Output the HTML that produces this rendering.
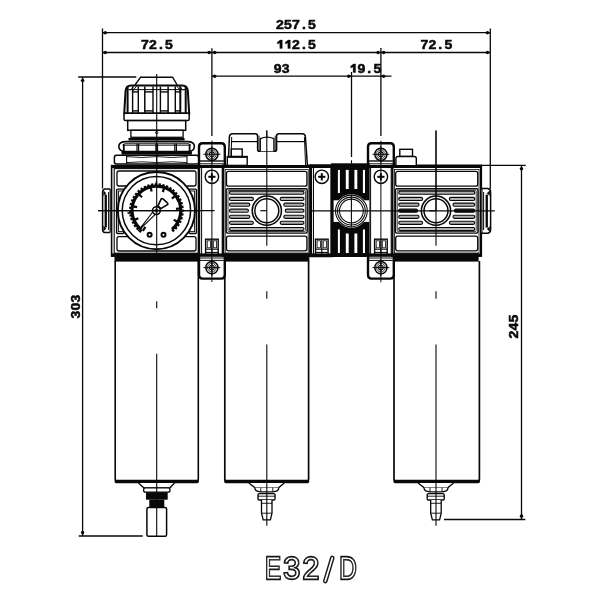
<!DOCTYPE html>
<html><head><meta charset="utf-8"><style>
html,body{margin:0;padding:0;background:#fff;width:600px;height:600px;overflow:hidden}
svg{display:block}
</style></head><body>
<svg width="600" height="600" viewBox="0 0 600 600" shape-rendering="geometricPrecision">
<rect width="600" height="600" fill="#fff"/>
<line x1="102.50" y1="32.70" x2="490.30" y2="32.70" stroke="#080808" stroke-width="1.3" />
<path d="M102.50,32.70 L105.03,31.00 Q107.10,31.00 107.10,32.70 Q107.10,34.40 105.03,34.40 Z" fill="#080808"/>
<path d="M490.30,32.70 L487.77,34.40 Q485.70,34.40 485.70,32.70 Q485.70,31.00 487.77,31.00 Z" fill="#080808"/>
<line x1="102.50" y1="52.50" x2="490.30" y2="52.50" stroke="#080808" stroke-width="1.3" />
<path d="M102.50,52.50 L105.03,50.80 Q107.10,50.80 107.10,52.50 Q107.10,54.20 105.03,54.20 Z" fill="#080808"/>
<path d="M211.90,52.50 L209.37,54.20 Q207.30,54.20 207.30,52.50 Q207.30,50.80 209.37,50.80 Z" fill="#080808"/>
<path d="M211.90,52.50 L214.43,50.80 Q216.50,50.80 216.50,52.50 Q216.50,54.20 214.43,54.20 Z" fill="#080808"/>
<path d="M380.90,52.50 L378.37,54.20 Q376.30,54.20 376.30,52.50 Q376.30,50.80 378.37,50.80 Z" fill="#080808"/>
<path d="M380.90,52.50 L383.43,50.80 Q385.50,50.80 385.50,52.50 Q385.50,54.20 383.43,54.20 Z" fill="#080808"/>
<path d="M490.30,52.50 L487.77,54.20 Q485.70,54.20 485.70,52.50 Q485.70,50.80 487.77,50.80 Z" fill="#080808"/>
<line x1="211.90" y1="76.20" x2="391.50" y2="76.20" stroke="#080808" stroke-width="1.3" />
<path d="M211.90,76.20 L214.43,74.50 Q216.50,74.50 216.50,76.20 Q216.50,77.90 214.43,77.90 Z" fill="#080808"/>
<path d="M351.50,76.20 L348.97,77.90 Q346.90,77.90 346.90,76.20 Q346.90,74.50 348.97,74.50 Z" fill="#080808"/>
<path d="M380.90,76.20 L383.43,74.50 Q385.50,74.50 385.50,76.20 Q385.50,77.90 383.43,77.90 Z" fill="#080808"/>
<line x1="102.50" y1="28.50" x2="102.50" y2="188.50" stroke="#080808" stroke-width="1.3" />
<line x1="490.30" y1="28.50" x2="490.30" y2="189.00" stroke="#080808" stroke-width="1.3" />
<line x1="211.90" y1="48.20" x2="211.90" y2="136.00" stroke="#080808" stroke-width="1.3" />
<line x1="380.90" y1="48.00" x2="380.90" y2="136.00" stroke="#080808" stroke-width="1.3" />
<line x1="351.50" y1="72.00" x2="351.50" y2="157.00" stroke="#080808" stroke-width="1.3" />
<line x1="82.60" y1="77.00" x2="82.60" y2="536.00" stroke="#080808" stroke-width="1.3" />
<path d="M82.60,77.60 L84.30,80.13 Q84.30,82.20 82.60,82.20 Q80.90,82.20 80.90,80.13 Z" fill="#080808"/>
<path d="M82.60,535.40 L80.90,532.87 Q80.90,530.80 82.60,530.80 Q84.30,530.80 84.30,532.87 Z" fill="#080808"/>
<line x1="78.20" y1="77.00" x2="136.30" y2="77.00" stroke="#080808" stroke-width="1.3" />
<line x1="78.70" y1="536.00" x2="142.70" y2="536.00" stroke="#080808" stroke-width="1.3" />
<line x1="521.50" y1="165.30" x2="521.50" y2="519.50" stroke="#080808" stroke-width="1.3" />
<path d="M521.50,165.90 L523.20,168.43 Q523.20,170.50 521.50,170.50 Q519.80,170.50 519.80,168.43 Z" fill="#080808"/>
<path d="M521.50,518.90 L519.80,516.37 Q519.80,514.30 521.50,514.30 Q523.20,514.30 523.20,516.37 Z" fill="#080808"/>
<line x1="481.00" y1="165.30" x2="525.70" y2="165.30" stroke="#080808" stroke-width="1.3" />
<line x1="444.00" y1="519.50" x2="525.30" y2="519.50" stroke="#080808" stroke-width="1.3" />
<path d="M135,85 L140.6,77.2 L172.6,77.2 L177.2,85" fill="none" stroke="#080808" stroke-width="1.4" />
<path d="M124.2,113.6 L125.6,90.5 Q126.2,85.6 131,85.4 L182.4,85.4 Q187.2,85.6 187.8,90.5 L189.2,113.6 Z" fill="#fff" stroke="#080808" stroke-width="2.0" />
<line x1="128.50" y1="89.60" x2="185.00" y2="89.60" stroke="#080808" stroke-width="1.0" />
<line x1="127.60" y1="86.50" x2="127.60" y2="113.40" stroke="#080808" stroke-width="2.0" />
<line x1="132.60" y1="86.50" x2="132.60" y2="113.40" stroke="#080808" stroke-width="1.4" />
<line x1="138.30" y1="86.50" x2="138.30" y2="113.40" stroke="#080808" stroke-width="1.4" />
<line x1="144.80" y1="86.50" x2="144.80" y2="113.40" stroke="#080808" stroke-width="1.5" />
<line x1="153.00" y1="86.50" x2="153.00" y2="113.40" stroke="#080808" stroke-width="1.4" />
<line x1="160.40" y1="86.50" x2="160.40" y2="113.40" stroke="#080808" stroke-width="1.4" />
<line x1="168.10" y1="86.50" x2="168.10" y2="113.40" stroke="#080808" stroke-width="1.5" />
<line x1="175.30" y1="86.50" x2="175.30" y2="113.40" stroke="#080808" stroke-width="1.4" />
<line x1="180.30" y1="86.50" x2="180.30" y2="113.40" stroke="#080808" stroke-width="2.0" />
<line x1="185.70" y1="86.50" x2="185.70" y2="113.40" stroke="#080808" stroke-width="2.0" />
<line x1="132.60" y1="91.90" x2="138.30" y2="91.90" stroke="#080808" stroke-width="1.4" />
<line x1="132.60" y1="110.90" x2="138.30" y2="110.90" stroke="#080808" stroke-width="1.4" />
<line x1="144.80" y1="91.90" x2="153.00" y2="91.90" stroke="#080808" stroke-width="1.4" />
<line x1="144.80" y1="110.90" x2="153.00" y2="110.90" stroke="#080808" stroke-width="1.4" />
<line x1="160.40" y1="91.90" x2="168.10" y2="91.90" stroke="#080808" stroke-width="1.4" />
<line x1="160.40" y1="110.90" x2="168.10" y2="110.90" stroke="#080808" stroke-width="1.4" />
<line x1="175.30" y1="91.90" x2="180.30" y2="91.90" stroke="#080808" stroke-width="1.4" />
<line x1="175.30" y1="110.90" x2="180.30" y2="110.90" stroke="#080808" stroke-width="1.4" />
<line x1="130.20" y1="90.50" x2="134.60" y2="85.60" stroke="#080808" stroke-width="0.9" />
<line x1="132.40" y1="91.50" x2="137.00" y2="85.60" stroke="#080808" stroke-width="0.9" />
<line x1="183.20" y1="90.50" x2="178.80" y2="85.60" stroke="#080808" stroke-width="0.9" />
<line x1="181.00" y1="91.50" x2="176.40" y2="85.60" stroke="#080808" stroke-width="0.9" />
<rect x="124.00" y="113.30" width="65.20" height="7.30" rx="1.5" fill="#fff" stroke="#080808" stroke-width="1.5" />
<rect x="127.70" y="120.60" width="58.00" height="9.70" rx="0" fill="#fff" stroke="#080808" stroke-width="1.5" />
<rect x="130.90" y="130.30" width="52.20" height="7.00" rx="0" fill="#fff" stroke="#080808" stroke-width="1.3" />
<circle cx="156.70" cy="132.60" r="1.20" fill="none" stroke="#080808" stroke-width="0.9"/>
<path d="M128.5,139.3 L184.6,139.3" fill="none" stroke="#080808" stroke-width="2.6" />
<path d="M126,141.6 L187.4,141.6 C192.2,141.6 194.4,143.6 194.4,146.6 C194.4,149.6 192.2,151.6 187.4,151.6 L126,151.6 C121.2,151.6 118.8,149.6 118.8,146.6 C118.8,143.6 121.2,141.6 126,141.6 Z" fill="#fff" stroke="#080808" stroke-width="1.6" />
<line x1="124.50" y1="143.80" x2="188.90" y2="143.80" stroke="#080808" stroke-width="1.0" />
<line x1="122.60" y1="145.30" x2="190.80" y2="145.30" stroke="#080808" stroke-width="0.8" />
<line x1="123.80" y1="143.80" x2="123.80" y2="151.40" stroke="#080808" stroke-width="1.8" />
<line x1="137.00" y1="143.80" x2="137.00" y2="151.40" stroke="#080808" stroke-width="1.2" />
<line x1="138.60" y1="143.80" x2="138.60" y2="151.40" stroke="#080808" stroke-width="1.2" />
<line x1="155.90" y1="143.80" x2="155.90" y2="151.40" stroke="#080808" stroke-width="1.2" />
<line x1="157.50" y1="143.80" x2="157.50" y2="151.40" stroke="#080808" stroke-width="1.2" />
<line x1="174.80" y1="143.80" x2="174.80" y2="151.40" stroke="#080808" stroke-width="1.2" />
<line x1="176.40" y1="143.80" x2="176.40" y2="151.40" stroke="#080808" stroke-width="1.2" />
<line x1="189.60" y1="143.80" x2="189.60" y2="151.40" stroke="#080808" stroke-width="1.8" />
<rect x="121.50" y="151.30" width="70.40" height="3.30" rx="0" fill="#080808"/>
<path d="M116.5,155.2 L196.6,155.2 Q198.8,155.3 198.8,157.5 L198.8,162 Q198.8,164 196.6,164 L116.5,164 Q114.4,164 114.4,162 L114.4,157.5 Q114.4,155.3 116.5,155.2 Z" fill="#fff" stroke="#080808" stroke-width="1.5" />
<line x1="126.60" y1="155.20" x2="126.60" y2="164.00" stroke="#080808" stroke-width="1.1" />
<line x1="156.70" y1="155.20" x2="156.70" y2="164.00" stroke="#080808" stroke-width="1.1" />
<line x1="187.00" y1="155.20" x2="187.00" y2="164.00" stroke="#080808" stroke-width="1.1" />
<path d="M126.6,156.6 Q141.6,158.4 156.7,156.6 Q171.8,158.4 187,156.6" fill="none" stroke="#080808" stroke-width="0.9" />
<path d="M126.6,162.6 Q141.6,161 156.7,162.6 Q171.8,161 187,162.6" fill="none" stroke="#080808" stroke-width="0.9" />
<rect x="111.60" y="165.60" width="89.20" height="90.40" rx="0" fill="#fff" stroke="#080808" stroke-width="1.6" />
<rect x="114.20" y="168.60" width="84.20" height="84.60" rx="0" fill="none" stroke="#080808" stroke-width="1.1" />
<rect x="117.00" y="171.00" width="79.00" height="15.00" rx="2" fill="none" stroke="#080808" stroke-width="1.3" />
<rect x="117.00" y="236.70" width="79.00" height="14.30" rx="2" fill="none" stroke="#080808" stroke-width="1.3" />
<rect x="116.60" y="189.10" width="7.40" height="44.40" rx="1" fill="none" stroke="#080808" stroke-width="1.4" />
<rect x="189.00" y="189.10" width="7.40" height="44.40" rx="1" fill="none" stroke="#080808" stroke-width="1.4" />
<rect x="118.40" y="191.00" width="5.60" height="40.60" rx="0" fill="none" stroke="#080808" stroke-width="0.9" />
<rect x="189.00" y="191.00" width="5.60" height="40.60" rx="0" fill="none" stroke="#080808" stroke-width="0.9" />
<path d="M110,189 L104.8,189 Q102.6,189.5 102.6,192 L102.6,229.5 Q102.6,232.2 104.8,232.6 L110,232.6" fill="#fff" stroke="#080808" stroke-width="1.5" />
<path d="M103.4,190.2 L106.2,193.2 L103.4,196 Z" fill="#080808"/>
<path d="M103.4,225.6 L106.2,228.4 L103.4,231.4 Z" fill="#080808"/>
<rect x="104.60" y="194.60" width="2.30" height="32.80" rx="0" fill="#080808"/>
<line x1="108.60" y1="192.00" x2="108.60" y2="230.00" stroke="#080808" stroke-width="1.0" />
<line x1="110.20" y1="189.00" x2="110.20" y2="232.60" stroke="#080808" stroke-width="1.2" />
<circle cx="156.40" cy="210.60" r="38.60" fill="#fff" stroke="#080808" stroke-width="1.9"/>
<circle cx="156.40" cy="210.60" r="34.20" fill="none" stroke="#080808" stroke-width="1.5"/>
<path d="M141.38,229.83 A24.4,24.4 0 1 1 172.08,229.29" fill="none" stroke="#080808" stroke-width="3.2" />
<line x1="141.38" y1="229.83" x2="139.53" y2="232.19" stroke="#080808" stroke-width="2.3" />
<line x1="138.76" y1="227.46" x2="136.59" y2="229.53" stroke="#080808" stroke-width="2.3" />
<line x1="136.51" y1="224.74" x2="134.07" y2="226.48" stroke="#080808" stroke-width="2.3" />
<line x1="134.68" y1="221.72" x2="132.01" y2="223.09" stroke="#080808" stroke-width="2.3" />
<line x1="133.30" y1="218.47" x2="130.47" y2="219.44" stroke="#080808" stroke-width="2.3" />
<line x1="132.41" y1="215.06" x2="129.46" y2="215.61" stroke="#080808" stroke-width="2.3" />
<line x1="132.02" y1="211.55" x2="129.02" y2="211.67" stroke="#080808" stroke-width="2.3" />
<line x1="132.14" y1="208.02" x2="129.15" y2="207.71" stroke="#080808" stroke-width="2.3" />
<line x1="132.76" y1="204.55" x2="129.86" y2="203.81" stroke="#080808" stroke-width="2.3" />
<line x1="133.88" y1="201.20" x2="131.11" y2="200.05" stroke="#080808" stroke-width="2.3" />
<line x1="135.47" y1="198.05" x2="132.90" y2="196.51" stroke="#080808" stroke-width="2.3" />
<line x1="137.50" y1="195.17" x2="135.18" y2="193.27" stroke="#080808" stroke-width="2.3" />
<line x1="139.92" y1="192.60" x2="137.90" y2="190.39" stroke="#080808" stroke-width="2.3" />
<line x1="142.69" y1="190.41" x2="141.01" y2="187.93" stroke="#080808" stroke-width="2.3" />
<line x1="145.75" y1="188.65" x2="144.44" y2="185.95" stroke="#080808" stroke-width="2.3" />
<line x1="149.03" y1="187.34" x2="148.12" y2="184.48" stroke="#080808" stroke-width="2.3" />
<line x1="152.46" y1="186.52" x2="151.97" y2="183.56" stroke="#080808" stroke-width="2.3" />
<line x1="155.97" y1="186.20" x2="155.92" y2="183.20" stroke="#080808" stroke-width="2.3" />
<line x1="159.50" y1="186.40" x2="159.88" y2="183.42" stroke="#080808" stroke-width="2.3" />
<line x1="162.96" y1="187.10" x2="163.76" y2="184.21" stroke="#080808" stroke-width="2.3" />
<line x1="166.28" y1="188.29" x2="167.49" y2="185.55" stroke="#080808" stroke-width="2.3" />
<line x1="169.39" y1="189.95" x2="170.99" y2="187.41" stroke="#080808" stroke-width="2.3" />
<line x1="172.24" y1="192.04" x2="174.18" y2="189.76" stroke="#080808" stroke-width="2.3" />
<line x1="174.75" y1="194.52" x2="177.01" y2="192.54" stroke="#080808" stroke-width="2.3" />
<line x1="176.88" y1="197.33" x2="179.39" y2="195.70" stroke="#080808" stroke-width="2.3" />
<line x1="178.58" y1="200.42" x2="181.30" y2="199.17" stroke="#080808" stroke-width="2.3" />
<line x1="179.81" y1="203.73" x2="182.69" y2="202.89" stroke="#080808" stroke-width="2.3" />
<line x1="180.56" y1="207.18" x2="183.53" y2="206.76" stroke="#080808" stroke-width="2.3" />
<line x1="180.80" y1="210.70" x2="183.80" y2="210.71" stroke="#080808" stroke-width="2.3" />
<line x1="180.53" y1="214.22" x2="183.50" y2="214.66" stroke="#080808" stroke-width="2.3" />
<line x1="179.76" y1="217.66" x2="182.63" y2="218.53" stroke="#080808" stroke-width="2.3" />
<line x1="178.49" y1="220.96" x2="181.21" y2="222.23" stroke="#080808" stroke-width="2.3" />
<line x1="176.77" y1="224.04" x2="179.27" y2="225.69" stroke="#080808" stroke-width="2.3" />
<line x1="174.62" y1="226.83" x2="176.86" y2="228.83" stroke="#080808" stroke-width="2.3" />
<line x1="172.08" y1="229.29" x2="174.01" y2="231.59" stroke="#080808" stroke-width="2.3" />
<line x1="142.76" y1="230.83" x2="145.44" y2="226.85" stroke="#080808" stroke-width="2.2" />
<line x1="133.94" y1="220.13" x2="138.36" y2="218.26" stroke="#080808" stroke-width="2.2" />
<line x1="132.37" y1="206.36" x2="137.10" y2="207.20" stroke="#080808" stroke-width="2.2" />
<line x1="138.55" y1="193.96" x2="142.07" y2="197.23" stroke="#080808" stroke-width="2.2" />
<line x1="150.50" y1="186.92" x2="151.66" y2="191.58" stroke="#080808" stroke-width="2.2" />
<line x1="164.34" y1="187.53" x2="162.78" y2="192.07" stroke="#080808" stroke-width="2.2" />
<line x1="175.63" y1="195.58" x2="171.85" y2="198.53" stroke="#080808" stroke-width="2.2" />
<line x1="180.71" y1="208.47" x2="175.93" y2="208.89" stroke="#080808" stroke-width="2.2" />
<line x1="177.94" y1="222.06" x2="173.71" y2="219.80" stroke="#080808" stroke-width="2.2" />
<line x1="156.40" y1="186.20" x2="156.40" y2="181.60" stroke="#080808" stroke-width="1.6" />
<line x1="132.09" y1="212.73" x2="127.51" y2="213.13" stroke="#080808" stroke-width="1.6" />
<path d="M157.89,211.94 L138.00,231.04 L154.91,209.26 Z" fill="#fff" stroke="#080808" stroke-width="1.1" />
<path d="M160.90,208.59 L167.76,204.41 Q168.21,203.47 167.10,202.60 L163.23,199.13 Q162.26,198.11 161.37,198.66 L157.92,205.92 Z" fill="#fff" stroke="#080808" stroke-width="1.6" />
<circle cx="156.40" cy="210.60" r="3.90" fill="#fff" stroke="#080808" stroke-width="1.5"/>
<circle cx="156.40" cy="210.60" r="1.60" fill="none" stroke="#080808" stroke-width="1.0"/>
<circle cx="149.60" cy="234.80" r="2.00" fill="none" stroke="#080808" stroke-width="2.0"/>
<circle cx="163.50" cy="234.80" r="2.00" fill="none" stroke="#080808" stroke-width="2.0"/>
<path d="M115.2,261 L115.2,479 Q115.2,481.6 117.8,481.6 L195.8,481.6 Q198.3,481.6 198.3,479 L198.3,261" fill="none" stroke="#080808" stroke-width="1.6" />
<rect x="114.60" y="479.80" width="84.30" height="3.40" rx="1.6" fill="#080808"/>
<path d="M138.5,483 L143.7,487.8 L170,487.8 L174.5,483" fill="#fff" stroke="#080808" stroke-width="1.3" />
<rect x="143.60" y="487.80" width="26.40" height="4.40" rx="2" fill="#fff" stroke="#080808" stroke-width="1.3" />
<rect x="146.00" y="492.20" width="21.70" height="7.50" rx="0" fill="#080808"/>
<rect x="149.30" y="499.70" width="15.00" height="7.70" rx="0" fill="#080808"/>
<rect x="146.90" y="507.40" width="19.70" height="28.90" rx="1.5" fill="#fff" stroke="#080808" stroke-width="1.5" />
<line x1="156.70" y1="74.00" x2="156.70" y2="253.50" stroke="#080808" stroke-width="1.1" />
<line x1="156.70" y1="301.30" x2="156.70" y2="308.30" stroke="#080808" stroke-width="1.1" />
<line x1="156.70" y1="353.80" x2="156.70" y2="536.30" stroke="#080808" stroke-width="1.1" />
<line x1="98.00" y1="210.60" x2="214.60" y2="210.60" stroke="#080808" stroke-width="1.2" />
<path d="M202.5,143.3 L221.3,143.3 Q224.8,143.3 224.8,146.8 L224.8,275.1 Q224.8,278.6 221.3,278.6 L202.5,278.6 Q199.0,278.6 199.0,275.1 L199.0,146.8 Q199.0,143.3 202.5,143.3 Z" fill="#fff" stroke="#080808" stroke-width="2.4" />
<line x1="201.60" y1="165.50" x2="201.60" y2="256.00" stroke="#080808" stroke-width="1.0" />
<line x1="222.20" y1="165.50" x2="222.20" y2="256.00" stroke="#080808" stroke-width="1.0" />
<circle cx="211.90" cy="154.30" r="6.10" fill="#fff" stroke="#080808" stroke-width="1.5"/>
<circle cx="211.90" cy="154.30" r="4.30" fill="none" stroke="#080808" stroke-width="0.8"/>
<circle cx="211.90" cy="154.30" r="2.40" fill="none" stroke="#080808" stroke-width="1.1"/>
<line x1="203.50" y1="154.30" x2="220.30" y2="154.30" stroke="#080808" stroke-width="1.0" />
<line x1="211.90" y1="145.90" x2="211.90" y2="162.70" stroke="#080808" stroke-width="1.0" />
<line x1="200.00" y1="161.00" x2="223.80" y2="161.00" stroke="#080808" stroke-width="1.4" />
<line x1="200.00" y1="163.80" x2="223.80" y2="163.80" stroke="#080808" stroke-width="1.0" />
<line x1="200.00" y1="258.00" x2="223.80" y2="258.00" stroke="#080808" stroke-width="1.0" />
<line x1="200.00" y1="260.40" x2="223.80" y2="260.40" stroke="#080808" stroke-width="1.0" />
<circle cx="211.90" cy="267.60" r="6.10" fill="#fff" stroke="#080808" stroke-width="1.5"/>
<circle cx="211.90" cy="267.60" r="4.30" fill="none" stroke="#080808" stroke-width="0.8"/>
<circle cx="211.90" cy="267.60" r="2.40" fill="none" stroke="#080808" stroke-width="1.1"/>
<line x1="203.50" y1="267.60" x2="220.30" y2="267.60" stroke="#080808" stroke-width="1.0" />
<line x1="211.90" y1="259.20" x2="211.90" y2="276.00" stroke="#080808" stroke-width="1.0" />
<circle cx="211.90" cy="176.80" r="6.70" fill="#fff" stroke="#080808" stroke-width="1.4"/>
<line x1="208.30" y1="176.80" x2="215.50" y2="176.80" stroke="#080808" stroke-width="2.0" />
<line x1="211.90" y1="173.20" x2="211.90" y2="180.40" stroke="#080808" stroke-width="2.0" />
<rect x="205.60" y="239.20" width="12.60" height="15.80" rx="0" fill="#fff" stroke="#080808" stroke-width="1.4" />
<line x1="211.90" y1="239.20" x2="211.90" y2="255.00" stroke="#080808" stroke-width="1.1" />
<rect x="207.20" y="240.80" width="3.30" height="7.00" rx="0" fill="none" stroke="#080808" stroke-width="0.8" />
<rect x="213.30" y="240.80" width="3.30" height="7.00" rx="0" fill="none" stroke="#080808" stroke-width="0.8" />
<line x1="205.60" y1="249.20" x2="218.20" y2="249.20" stroke="#080808" stroke-width="1.1" />
<line x1="205.60" y1="252.40" x2="218.20" y2="252.40" stroke="#080808" stroke-width="1.1" />
<path d="M371.5,143.3 L390.29999999999995,143.3 Q393.79999999999995,143.3 393.79999999999995,146.8 L393.79999999999995,275.1 Q393.79999999999995,278.6 390.29999999999995,278.6 L371.5,278.6 Q368.0,278.6 368.0,275.1 L368.0,146.8 Q368.0,143.3 371.5,143.3 Z" fill="#fff" stroke="#080808" stroke-width="2.4" />
<line x1="370.60" y1="165.50" x2="370.60" y2="256.00" stroke="#080808" stroke-width="1.0" />
<line x1="391.20" y1="165.50" x2="391.20" y2="256.00" stroke="#080808" stroke-width="1.0" />
<circle cx="380.90" cy="154.30" r="6.10" fill="#fff" stroke="#080808" stroke-width="1.5"/>
<circle cx="380.90" cy="154.30" r="4.30" fill="none" stroke="#080808" stroke-width="0.8"/>
<circle cx="380.90" cy="154.30" r="2.40" fill="none" stroke="#080808" stroke-width="1.1"/>
<line x1="372.50" y1="154.30" x2="389.30" y2="154.30" stroke="#080808" stroke-width="1.0" />
<line x1="380.90" y1="145.90" x2="380.90" y2="162.70" stroke="#080808" stroke-width="1.0" />
<line x1="369.00" y1="161.00" x2="392.80" y2="161.00" stroke="#080808" stroke-width="1.4" />
<line x1="369.00" y1="163.80" x2="392.80" y2="163.80" stroke="#080808" stroke-width="1.0" />
<line x1="369.00" y1="258.00" x2="392.80" y2="258.00" stroke="#080808" stroke-width="1.0" />
<line x1="369.00" y1="260.40" x2="392.80" y2="260.40" stroke="#080808" stroke-width="1.0" />
<circle cx="380.90" cy="267.60" r="6.10" fill="#fff" stroke="#080808" stroke-width="1.5"/>
<circle cx="380.90" cy="267.60" r="4.30" fill="none" stroke="#080808" stroke-width="0.8"/>
<circle cx="380.90" cy="267.60" r="2.40" fill="none" stroke="#080808" stroke-width="1.1"/>
<line x1="372.50" y1="267.60" x2="389.30" y2="267.60" stroke="#080808" stroke-width="1.0" />
<line x1="380.90" y1="259.20" x2="380.90" y2="276.00" stroke="#080808" stroke-width="1.0" />
<circle cx="380.90" cy="176.80" r="6.70" fill="#fff" stroke="#080808" stroke-width="1.4"/>
<line x1="377.30" y1="176.80" x2="384.50" y2="176.80" stroke="#080808" stroke-width="2.0" />
<line x1="380.90" y1="173.20" x2="380.90" y2="180.40" stroke="#080808" stroke-width="2.0" />
<rect x="374.60" y="239.20" width="12.60" height="15.80" rx="0" fill="#fff" stroke="#080808" stroke-width="1.4" />
<line x1="380.90" y1="239.20" x2="380.90" y2="255.00" stroke="#080808" stroke-width="1.1" />
<rect x="376.20" y="240.80" width="3.30" height="7.00" rx="0" fill="none" stroke="#080808" stroke-width="0.8" />
<rect x="382.30" y="240.80" width="3.30" height="7.00" rx="0" fill="none" stroke="#080808" stroke-width="0.8" />
<line x1="374.60" y1="249.20" x2="387.20" y2="249.20" stroke="#080808" stroke-width="1.1" />
<line x1="374.60" y1="252.40" x2="387.20" y2="252.40" stroke="#080808" stroke-width="1.1" />
<path d="M310.9,165.5 L331.6,165.5 L331.6,256.0 L310.9,256.0 Z" fill="#fff" stroke="#080808" stroke-width="2.4" />
<line x1="313.50" y1="165.50" x2="313.50" y2="256.00" stroke="#080808" stroke-width="1.0" />
<circle cx="321.80" cy="176.80" r="6.70" fill="#fff" stroke="#080808" stroke-width="1.4"/>
<line x1="318.20" y1="176.80" x2="325.40" y2="176.80" stroke="#080808" stroke-width="2.0" />
<line x1="321.80" y1="173.20" x2="321.80" y2="180.40" stroke="#080808" stroke-width="2.0" />
<rect x="315.50" y="239.20" width="12.60" height="15.80" rx="0" fill="#fff" stroke="#080808" stroke-width="1.4" />
<line x1="321.80" y1="239.20" x2="321.80" y2="255.00" stroke="#080808" stroke-width="1.1" />
<rect x="317.10" y="240.80" width="3.30" height="7.00" rx="0" fill="none" stroke="#080808" stroke-width="0.8" />
<rect x="323.20" y="240.80" width="3.30" height="7.00" rx="0" fill="none" stroke="#080808" stroke-width="0.8" />
<line x1="315.50" y1="249.20" x2="328.10" y2="249.20" stroke="#080808" stroke-width="1.1" />
<line x1="315.50" y1="252.40" x2="328.10" y2="252.40" stroke="#080808" stroke-width="1.1" />
<rect x="223.20" y="165.60" width="87.00" height="90.00" rx="0" fill="#fff" stroke="#080808" stroke-width="2.2" />
<rect x="225.20" y="169.40" width="83.00" height="83.60" rx="0" fill="none" stroke="#080808" stroke-width="0.8" />
<rect x="226.50" y="171.30" width="80.40" height="14.90" rx="2" fill="none" stroke="#080808" stroke-width="1.3" />
<rect x="226.50" y="236.20" width="80.40" height="14.60" rx="2" fill="none" stroke="#080808" stroke-width="1.3" />
<rect x="226.20" y="188.80" width="81.00" height="44.30" rx="1.5" fill="none" stroke="#080808" stroke-width="1.4" />
<rect x="228.00" y="190.30" width="77.40" height="41.30" rx="1" fill="none" stroke="#080808" stroke-width="0.8" />
<rect x="229.50" y="191.15" width="74.40" height="3.10" rx="1.5" fill="#b0b0b0" stroke="#080808" stroke-width="1.15" />
<rect x="229.50" y="197.35" width="23.90" height="3.10" rx="1.5" fill="#b0b0b0" stroke="#080808" stroke-width="1.15" />
<rect x="280.20" y="197.35" width="23.70" height="3.10" rx="1.5" fill="#b0b0b0" stroke="#080808" stroke-width="1.15" />
<rect x="229.50" y="203.15" width="20.30" height="3.10" rx="1.5" fill="#b0b0b0" stroke="#080808" stroke-width="1.15" />
<rect x="283.80" y="203.15" width="20.10" height="3.10" rx="1.5" fill="#b0b0b0" stroke="#080808" stroke-width="1.15" />
<rect x="229.50" y="209.15" width="18.90" height="3.10" rx="1.5" fill="#b0b0b0" stroke="#080808" stroke-width="1.15" />
<rect x="285.20" y="209.15" width="18.70" height="3.10" rx="1.5" fill="#b0b0b0" stroke="#080808" stroke-width="1.15" />
<rect x="229.50" y="215.25" width="20.30" height="3.10" rx="1.5" fill="#b0b0b0" stroke="#080808" stroke-width="1.15" />
<rect x="283.80" y="215.25" width="20.10" height="3.10" rx="1.5" fill="#b0b0b0" stroke="#080808" stroke-width="1.15" />
<rect x="229.50" y="221.25" width="23.90" height="3.10" rx="1.5" fill="#b0b0b0" stroke="#080808" stroke-width="1.15" />
<rect x="280.20" y="221.25" width="23.70" height="3.10" rx="1.5" fill="#b0b0b0" stroke="#080808" stroke-width="1.15" />
<rect x="229.50" y="227.45" width="74.40" height="3.10" rx="1.5" fill="#b0b0b0" stroke="#080808" stroke-width="1.15" />
<circle cx="266.80" cy="210.70" r="14.60" fill="#fff" stroke="#080808" stroke-width="1.5"/>
<circle cx="266.80" cy="210.70" r="12.00" fill="#fff" stroke="#080808" stroke-width="1.5"/>
<line x1="260.30" y1="210.70" x2="266.80" y2="210.70" stroke="#080808" stroke-width="1.2" />
<path d="M224.79999999999998,261 L224.79999999999998,479 Q224.79999999999998,481.6 227.39999999999998,481.6 L305.99999999999994,481.6 Q308.59999999999997,481.6 308.59999999999997,479 L308.59999999999997,261" fill="none" stroke="#080808" stroke-width="1.7" />
<rect x="224.20" y="479.80" width="85.00" height="3.40" rx="1.6" fill="#080808"/>
<path d="M248.8,483 L254.8,487.6 L278.8,487.6 L284.3,483" fill="#fff" stroke="#080808" stroke-width="1.3" />
<path d="M254.8,487.6 Q254.8,491.8 260.8,491.8 L272.8,491.8 Q278.8,491.8 278.8,487.6" fill="#fff" stroke="#080808" stroke-width="1.3" />
<line x1="260.80" y1="487.60" x2="260.80" y2="491.80" stroke="#080808" stroke-width="0.9" />
<line x1="272.80" y1="487.60" x2="272.80" y2="491.80" stroke="#080808" stroke-width="0.9" />
<rect x="258.00" y="493.60" width="17.00" height="6.40" rx="1.2" fill="#fff" stroke="#080808" stroke-width="1.4" />
<line x1="258.00" y1="496.20" x2="275.00" y2="496.20" stroke="#080808" stroke-width="0.9" />
<path d="M261.5,500 L261.5,513.2 L263.2,519.8 L270.40000000000003,519.8 L272.0,513.2 L272.0,500" fill="#fff" stroke="#080808" stroke-width="1.3" />
<line x1="261.50" y1="503.30" x2="272.00" y2="503.30" stroke="#080808" stroke-width="0.9" />
<line x1="261.50" y1="513.20" x2="272.00" y2="513.20" stroke="#080808" stroke-width="0.9" />
<line x1="266.80" y1="130.50" x2="266.80" y2="245.70" stroke="#080808" stroke-width="1.1" />
<line x1="266.80" y1="291.30" x2="266.80" y2="298.80" stroke="#080808" stroke-width="1.1" />
<line x1="266.80" y1="344.50" x2="266.80" y2="525.80" stroke="#080808" stroke-width="1.1" />
<rect x="392.40" y="165.60" width="88.60" height="90.00" rx="0" fill="#fff" stroke="#080808" stroke-width="2.2" />
<rect x="394.40" y="169.40" width="84.60" height="83.60" rx="0" fill="none" stroke="#080808" stroke-width="0.8" />
<rect x="395.70" y="171.30" width="82.00" height="14.90" rx="2" fill="none" stroke="#080808" stroke-width="1.3" />
<rect x="395.70" y="236.20" width="82.00" height="14.60" rx="2" fill="none" stroke="#080808" stroke-width="1.3" />
<rect x="395.40" y="188.80" width="82.60" height="44.30" rx="1.5" fill="none" stroke="#080808" stroke-width="1.4" />
<rect x="397.20" y="190.30" width="79.00" height="41.30" rx="1" fill="none" stroke="#080808" stroke-width="0.8" />
<rect x="398.70" y="191.15" width="76.00" height="3.10" rx="1.5" fill="#b0b0b0" stroke="#080808" stroke-width="1.15" />
<rect x="398.70" y="197.35" width="23.90" height="3.10" rx="1.5" fill="#b0b0b0" stroke="#080808" stroke-width="1.15" />
<rect x="449.40" y="197.35" width="25.30" height="3.10" rx="1.5" fill="#b0b0b0" stroke="#080808" stroke-width="1.15" />
<rect x="398.70" y="203.15" width="20.30" height="3.10" rx="1.5" fill="#b0b0b0" stroke="#080808" stroke-width="1.15" />
<rect x="453.00" y="203.15" width="21.70" height="3.10" rx="1.5" fill="#b0b0b0" stroke="#080808" stroke-width="1.15" />
<rect x="398.70" y="209.15" width="18.90" height="3.10" rx="1.5" fill="#111" stroke="#080808" stroke-width="1.15" />
<rect x="454.40" y="209.15" width="20.30" height="3.10" rx="1.5" fill="#111" stroke="#080808" stroke-width="1.15" />
<rect x="398.70" y="215.25" width="20.30" height="3.10" rx="1.5" fill="#b0b0b0" stroke="#080808" stroke-width="1.15" />
<rect x="453.00" y="215.25" width="21.70" height="3.10" rx="1.5" fill="#b0b0b0" stroke="#080808" stroke-width="1.15" />
<rect x="398.70" y="221.25" width="23.90" height="3.10" rx="1.5" fill="#b0b0b0" stroke="#080808" stroke-width="1.15" />
<rect x="449.40" y="221.25" width="25.30" height="3.10" rx="1.5" fill="#b0b0b0" stroke="#080808" stroke-width="1.15" />
<rect x="398.70" y="227.45" width="76.00" height="3.10" rx="1.5" fill="#b0b0b0" stroke="#080808" stroke-width="1.15" />
<circle cx="436.00" cy="210.70" r="14.60" fill="#fff" stroke="#080808" stroke-width="1.5"/>
<circle cx="436.00" cy="210.70" r="12.00" fill="#fff" stroke="#080808" stroke-width="1.5"/>
<line x1="429.50" y1="210.70" x2="436.00" y2="210.70" stroke="#080808" stroke-width="1.2" />
<path d="M394.0,261 L394.0,479 Q394.0,481.6 396.6,481.6 L476.79999999999995,481.6 Q479.4,481.6 479.4,479 L479.4,261" fill="none" stroke="#080808" stroke-width="1.7" />
<rect x="393.40" y="479.80" width="86.60" height="3.40" rx="1.6" fill="#080808"/>
<path d="M418.0,483 L424.0,487.6 L448.0,487.6 L453.5,483" fill="#fff" stroke="#080808" stroke-width="1.3" />
<path d="M424.0,487.6 Q424.0,491.8 430.0,491.8 L442.0,491.8 Q448.0,491.8 448.0,487.6" fill="#fff" stroke="#080808" stroke-width="1.3" />
<line x1="430.00" y1="487.60" x2="430.00" y2="491.80" stroke="#080808" stroke-width="0.9" />
<line x1="442.00" y1="487.60" x2="442.00" y2="491.80" stroke="#080808" stroke-width="0.9" />
<rect x="427.20" y="493.60" width="17.00" height="6.40" rx="1.2" fill="#fff" stroke="#080808" stroke-width="1.4" />
<line x1="427.20" y1="496.20" x2="444.20" y2="496.20" stroke="#080808" stroke-width="0.9" />
<path d="M430.7,500 L430.7,513.2 L432.4,519.8 L439.6,519.8 L441.2,513.2 L441.2,500" fill="#fff" stroke="#080808" stroke-width="1.3" />
<line x1="430.70" y1="503.30" x2="441.20" y2="503.30" stroke="#080808" stroke-width="0.9" />
<line x1="430.70" y1="513.20" x2="441.20" y2="513.20" stroke="#080808" stroke-width="0.9" />
<line x1="436.00" y1="130.50" x2="436.00" y2="245.70" stroke="#080808" stroke-width="1.1" />
<line x1="436.00" y1="291.30" x2="436.00" y2="298.80" stroke="#080808" stroke-width="1.1" />
<line x1="436.00" y1="344.50" x2="436.00" y2="525.80" stroke="#080808" stroke-width="1.1" />
<path d="M228.2,165.4 L229.4,136.7 Q229.6,133.8 232.6,133.8 L255.3,133.8 Q257.6,133.9 257.6,136.2 L257.6,149.4 Q257.6,151.3 259.5,151.3 L274.7,151.3 Q276.6,151.3 276.6,149.4 L276.6,136.2 Q276.6,133.9 278.9,133.8 L302.2,133.8 Q305.2,133.8 305.4,136.7 L307.4,165.4" fill="#fff" stroke="#080808" stroke-width="1.5" />
<line x1="231.70" y1="137.00" x2="230.80" y2="165.40" stroke="#080808" stroke-width="1.0" />
<line x1="304.40" y1="137.00" x2="305.60" y2="165.40" stroke="#080808" stroke-width="1.0" />
<line x1="231.40" y1="141.60" x2="257.60" y2="141.60" stroke="#080808" stroke-width="1.2" />
<line x1="276.60" y1="141.60" x2="304.60" y2="141.60" stroke="#080808" stroke-width="1.2" />
<line x1="259.00" y1="135.60" x2="259.00" y2="150.60" stroke="#080808" stroke-width="0.9" />
<line x1="275.20" y1="135.60" x2="275.20" y2="150.60" stroke="#080808" stroke-width="0.9" />
<path d="M260.3,151.3 L260.3,138.7 Q267.0,135.7 273.9,138.7 L273.9,151.3" fill="#fff" stroke="#080808" stroke-width="1.3" />
<rect x="231.30" y="149.00" width="10.90" height="7.60" rx="0" fill="#fff" stroke="#080808" stroke-width="1.4" />
<rect x="227.30" y="156.60" width="19.90" height="8.80" rx="0" fill="#fff" stroke="#080808" stroke-width="1.4" />
<line x1="227.30" y1="156.90" x2="247.20" y2="156.90" stroke="#080808" stroke-width="2.0" />
<line x1="266.80" y1="130.50" x2="266.80" y2="165.00" stroke="#080808" stroke-width="1.1" />
<rect x="399.80" y="149.30" width="12.70" height="7.20" rx="0" fill="#fff" stroke="#080808" stroke-width="1.4" />
<path d="M395.9,165.4 L395.9,158.6 Q395.9,156.5 398.0,156.5 L414.2,156.5 Q416.3,156.5 416.3,158.6 L416.3,165.4" fill="#fff" stroke="#080808" stroke-width="1.4" />
<path d="M481.2,188.6 L487.8,188.6 Q490.6,189.2 490.6,192 L490.6,229.8 Q490.6,232.8 487.8,233.2 L481.2,233.2" fill="#fff" stroke="#080808" stroke-width="1.5" />
<path d="M489.8,190.2 L486.9,193.2 L489.8,196 Z" fill="#080808"/>
<path d="M489.8,226.2 L486.9,229 L489.8,232 Z" fill="#080808"/>
<rect x="485.60" y="194.60" width="2.30" height="33.00" rx="0" fill="#080808"/>
<line x1="483.60" y1="192.00" x2="483.60" y2="230.00" stroke="#080808" stroke-width="1.0" />
<line x1="481.90" y1="188.60" x2="481.90" y2="233.20" stroke="#080808" stroke-width="1.2" />
<line x1="436.00" y1="130.50" x2="436.00" y2="210.70" stroke="#080808" stroke-width="1.1" />
<rect x="330.90" y="163.30" width="38.70" height="93.70" rx="0" fill="#080808"/>
<line x1="351.50" y1="160.30" x2="351.50" y2="163.50" stroke="#080808" stroke-width="1.1" />
<rect x="337.90" y="169.90" width="2.00" height="23.10" rx="0" fill="#fff"/>
<rect x="345.80" y="169.90" width="2.90" height="19.10" rx="0" fill="#fff"/>
<rect x="354.40" y="169.90" width="2.90" height="19.10" rx="0" fill="#fff"/>
<rect x="362.90" y="169.90" width="2.10" height="23.10" rx="0" fill="#fff"/>
<rect x="337.90" y="229.50" width="2.00" height="23.50" rx="0" fill="#fff"/>
<rect x="345.80" y="233.50" width="2.90" height="19.50" rx="0" fill="#fff"/>
<rect x="354.40" y="233.50" width="2.90" height="19.50" rx="0" fill="#fff"/>
<rect x="362.90" y="229.50" width="2.10" height="23.50" rx="0" fill="#fff"/>
<rect x="333.60" y="200.30" width="35.60" height="21.60" rx="0" fill="#fff"/>
<circle cx="351.40" cy="211.00" r="16.70" fill="#fff" stroke="#080808" stroke-width="0"/>
<circle cx="351.40" cy="211.00" r="15.90" fill="none" stroke="#080808" stroke-width="1.05"/>
<circle cx="351.40" cy="211.00" r="13.90" fill="none" stroke="#080808" stroke-width="1.05"/>
<circle cx="351.40" cy="211.00" r="11.90" fill="none" stroke="#080808" stroke-width="1.05"/>
<line x1="351.40" y1="194.70" x2="351.40" y2="227.30" stroke="#080808" stroke-width="1.1" />
<rect x="111.00" y="165.00" width="371.00" height="3.00" rx="0" fill="#080808"/>
<rect x="111.00" y="253.40" width="371.00" height="3.40" rx="0" fill="#080808"/>
<rect x="114.50" y="253.20" width="84.50" height="8.40" rx="0" fill="#080808"/>
<rect x="224.00" y="253.20" width="85.40" height="8.40" rx="0" fill="#080808"/>
<rect x="394.00" y="253.20" width="84.60" height="8.40" rx="0" fill="#080808"/>
<line x1="211.90" y1="140.40" x2="211.90" y2="282.00" stroke="#080808" stroke-width="1.0" />
<line x1="380.90" y1="140.70" x2="380.90" y2="282.30" stroke="#080808" stroke-width="1.0" />
<line x1="310.00" y1="210.85" x2="494.70" y2="210.85" stroke="#080808" stroke-width="1.2" />
<line x1="98.00" y1="210.60" x2="214.60" y2="210.60" stroke="#080808" stroke-width="1.2" />
<g opacity="0.995"><text transform="translate(280.00,29.00) scale(1.17,1)" x="0" y="0" text-anchor="middle" font-family="Liberation Sans" font-weight="bold" font-size="12.0" fill="#080808" stroke="#080808" stroke-width="0.5">2</text>
<text transform="translate(288.00,29.00) scale(1.17,1)" x="0" y="0" text-anchor="middle" font-family="Liberation Sans" font-weight="bold" font-size="12.0" fill="#080808" stroke="#080808" stroke-width="0.5">5</text>
<text transform="translate(296.00,29.00) scale(1.17,1)" x="0" y="0" text-anchor="middle" font-family="Liberation Sans" font-weight="bold" font-size="12.0" fill="#080808" stroke="#080808" stroke-width="0.5">7</text>
<text transform="translate(304.00,29.00) scale(1.17,1)" x="0" y="0" text-anchor="middle" font-family="Liberation Sans" font-weight="bold" font-size="12.0" fill="#080808" stroke="#080808" stroke-width="0.5">.</text>
<text transform="translate(312.00,29.00) scale(1.17,1)" x="0" y="0" text-anchor="middle" font-family="Liberation Sans" font-weight="bold" font-size="12.0" fill="#080808" stroke="#080808" stroke-width="0.5">5</text>
<text transform="translate(144.90,48.60) scale(1.17,1)" x="0" y="0" text-anchor="middle" font-family="Liberation Sans" font-weight="bold" font-size="12.0" fill="#080808" stroke="#080808" stroke-width="0.5">7</text>
<text transform="translate(152.90,48.60) scale(1.17,1)" x="0" y="0" text-anchor="middle" font-family="Liberation Sans" font-weight="bold" font-size="12.0" fill="#080808" stroke="#080808" stroke-width="0.5">2</text>
<text transform="translate(160.90,48.60) scale(1.17,1)" x="0" y="0" text-anchor="middle" font-family="Liberation Sans" font-weight="bold" font-size="12.0" fill="#080808" stroke="#080808" stroke-width="0.5">.</text>
<text transform="translate(168.90,48.60) scale(1.17,1)" x="0" y="0" text-anchor="middle" font-family="Liberation Sans" font-weight="bold" font-size="12.0" fill="#080808" stroke="#080808" stroke-width="0.5">5</text>
<path transform="translate(280.00,48.60)" d="M0.0,-8.6 L2.3,-8.6 L2.3,0 L-0.2,0 L-0.2,-5.6 Q-1.4,-5.0 -2.6,-4.6 L-2.6,-6.6 Q-0.9,-7.3999999999999995 0.0,-8.6 Z" fill="#080808" stroke="#080808" stroke-width="0.3"/>
<path transform="translate(288.00,48.60)" d="M0.0,-8.6 L2.3,-8.6 L2.3,0 L-0.2,0 L-0.2,-5.6 Q-1.4,-5.0 -2.6,-4.6 L-2.6,-6.6 Q-0.9,-7.3999999999999995 0.0,-8.6 Z" fill="#080808" stroke="#080808" stroke-width="0.3"/>
<text transform="translate(296.00,48.60) scale(1.17,1)" x="0" y="0" text-anchor="middle" font-family="Liberation Sans" font-weight="bold" font-size="12.0" fill="#080808" stroke="#080808" stroke-width="0.5">2</text>
<text transform="translate(304.00,48.60) scale(1.17,1)" x="0" y="0" text-anchor="middle" font-family="Liberation Sans" font-weight="bold" font-size="12.0" fill="#080808" stroke="#080808" stroke-width="0.5">.</text>
<text transform="translate(312.00,48.60) scale(1.17,1)" x="0" y="0" text-anchor="middle" font-family="Liberation Sans" font-weight="bold" font-size="12.0" fill="#080808" stroke="#080808" stroke-width="0.5">5</text>
<text transform="translate(424.30,48.60) scale(1.17,1)" x="0" y="0" text-anchor="middle" font-family="Liberation Sans" font-weight="bold" font-size="12.0" fill="#080808" stroke="#080808" stroke-width="0.5">7</text>
<text transform="translate(432.30,48.60) scale(1.17,1)" x="0" y="0" text-anchor="middle" font-family="Liberation Sans" font-weight="bold" font-size="12.0" fill="#080808" stroke="#080808" stroke-width="0.5">2</text>
<text transform="translate(440.30,48.60) scale(1.17,1)" x="0" y="0" text-anchor="middle" font-family="Liberation Sans" font-weight="bold" font-size="12.0" fill="#080808" stroke="#080808" stroke-width="0.5">.</text>
<text transform="translate(448.30,48.60) scale(1.17,1)" x="0" y="0" text-anchor="middle" font-family="Liberation Sans" font-weight="bold" font-size="12.0" fill="#080808" stroke="#080808" stroke-width="0.5">5</text>
<text transform="translate(277.70,72.50) scale(1.17,1)" x="0" y="0" text-anchor="middle" font-family="Liberation Sans" font-weight="bold" font-size="12.0" fill="#080808" stroke="#080808" stroke-width="0.5">9</text>
<text transform="translate(285.70,72.50) scale(1.17,1)" x="0" y="0" text-anchor="middle" font-family="Liberation Sans" font-weight="bold" font-size="12.0" fill="#080808" stroke="#080808" stroke-width="0.5">3</text>
<path transform="translate(353.30,72.50)" d="M0.0,-8.6 L2.3,-8.6 L2.3,0 L-0.2,0 L-0.2,-5.6 Q-1.4,-5.0 -2.6,-4.6 L-2.6,-6.6 Q-0.9,-7.3999999999999995 0.0,-8.6 Z" fill="#080808" stroke="#080808" stroke-width="0.3"/>
<text transform="translate(361.30,72.50) scale(1.17,1)" x="0" y="0" text-anchor="middle" font-family="Liberation Sans" font-weight="bold" font-size="12.0" fill="#080808" stroke="#080808" stroke-width="0.5">9</text>
<text transform="translate(369.30,72.50) scale(1.17,1)" x="0" y="0" text-anchor="middle" font-family="Liberation Sans" font-weight="bold" font-size="12.0" fill="#080808" stroke="#080808" stroke-width="0.5">.</text>
<text transform="translate(377.30,72.50) scale(1.17,1)" x="0" y="0" text-anchor="middle" font-family="Liberation Sans" font-weight="bold" font-size="12.0" fill="#080808" stroke="#080808" stroke-width="0.5">5</text>
<text transform="translate(79.50,314.60) rotate(-90) scale(1.17,1)" x="0" y="0" text-anchor="middle" font-family="Liberation Sans" font-weight="bold" font-size="12.0" fill="#080808" stroke="#080808" stroke-width="0.5">3</text>
<text transform="translate(79.50,306.60) rotate(-90) scale(1.17,1)" x="0" y="0" text-anchor="middle" font-family="Liberation Sans" font-weight="bold" font-size="12.0" fill="#080808" stroke="#080808" stroke-width="0.5">0</text>
<text transform="translate(79.50,298.60) rotate(-90) scale(1.17,1)" x="0" y="0" text-anchor="middle" font-family="Liberation Sans" font-weight="bold" font-size="12.0" fill="#080808" stroke="#080808" stroke-width="0.5">3</text>
<text transform="translate(518.00,334.50) rotate(-90) scale(1.17,1)" x="0" y="0" text-anchor="middle" font-family="Liberation Sans" font-weight="bold" font-size="12.0" fill="#080808" stroke="#080808" stroke-width="0.5">2</text>
<text transform="translate(518.00,326.50) rotate(-90) scale(1.17,1)" x="0" y="0" text-anchor="middle" font-family="Liberation Sans" font-weight="bold" font-size="12.0" fill="#080808" stroke="#080808" stroke-width="0.5">4</text>
<text transform="translate(518.00,318.50) rotate(-90) scale(1.17,1)" x="0" y="0" text-anchor="middle" font-family="Liberation Sans" font-weight="bold" font-size="12.0" fill="#080808" stroke="#080808" stroke-width="0.5">5</text>
<g transform="translate(264.90,579.3) scale(0.785,1)"><text x="0" y="0" font-family="Liberation Sans" font-size="30.6" fill="none" stroke="#161616" stroke-width="2.3">E</text><text x="0" y="0" font-family="Liberation Sans" font-size="30.6" fill="#fff" stroke="none" stroke-width="0">E</text><text x="0" y="0" font-family="Liberation Sans" font-size="30.6" fill="none" stroke="#161616" stroke-width="0.85">E</text></g>
<g transform="translate(283.30,579.3) scale(1.0,1)"><text x="0" y="0" font-family="Liberation Sans" font-size="30.6" fill="none" stroke="#161616" stroke-width="2.3">3</text><text x="0" y="0" font-family="Liberation Sans" font-size="30.6" fill="#fff" stroke="none" stroke-width="0">3</text><text x="0" y="0" font-family="Liberation Sans" font-size="30.6" fill="none" stroke="#161616" stroke-width="0.85">3</text></g>
<g transform="translate(302.50,579.3) scale(0.99,1)"><text x="0" y="0" font-family="Liberation Sans" font-size="30.6" fill="none" stroke="#161616" stroke-width="2.3">2</text><text x="0" y="0" font-family="Liberation Sans" font-size="30.6" fill="#fff" stroke="none" stroke-width="0">2</text><text x="0" y="0" font-family="Liberation Sans" font-size="30.6" fill="none" stroke="#161616" stroke-width="0.85">2</text></g>
<line x1="332.3" y1="557.9" x2="325.3" y2="581.1" stroke="#161616" stroke-width="4.6" stroke-linecap="round"/>
<line x1="332.3" y1="557.9" x2="325.3" y2="581.1" stroke="#fff" stroke-width="1.7" stroke-linecap="round"/>
<g transform="translate(339.20,579.3) scale(0.79,1)"><text x="0" y="0" font-family="Liberation Sans" font-size="30.6" fill="none" stroke="#161616" stroke-width="2.3">D</text><text x="0" y="0" font-family="Liberation Sans" font-size="30.6" fill="#fff" stroke="none" stroke-width="0">D</text><text x="0" y="0" font-family="Liberation Sans" font-size="30.6" fill="none" stroke="#161616" stroke-width="0.85">D</text></g></g>
</svg></body></html>
